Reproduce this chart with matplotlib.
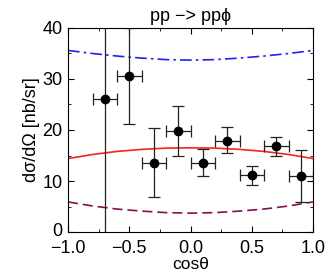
import matplotlib
matplotlib.use("Agg")
import matplotlib.pyplot as plt
import matplotlib.transforms as mtransforms
from matplotlib.ticker import MultipleLocator

plt.rcParams['font.family'] = ['Liberation Sans', 'DejaVu Sans']

# data points
cos_x = [-0.7, -0.5, -0.3, -0.1, 0.1, 0.3, 0.5, 0.7, 0.9]
xerr = [0.1] * 9
dsig = [26.0, 30.5, 13.5, 19.8, 13.5, 17.9, 11.1, 16.8, 11.0]
err_up = [30.0, 9.5, 6.8, 5.0, 2.7, 2.6, 1.9, 1.9, 5.0]
err_lo = [30.0, 9.3, 6.7, 4.9, 2.5, 2.4, 1.8, 1.8, 5.1]

curve_x = [-1.0, -0.8, -0.6, -0.4, -0.2, 0.0, 0.2, 0.4, 0.6, 0.8, 1.0]
blue_y = [35.6, 35.0, 34.5, 34.1, 33.8, 33.7, 33.8, 34.1, 34.5, 35.0, 35.6]
red_y = [14.4, 15.2, 15.8, 16.2, 16.45, 16.5, 16.45, 16.2, 15.8, 15.2, 14.4]
purple_y = [5.9, 5.1, 4.5, 4.1, 3.8, 3.7, 3.8, 4.1, 4.5, 5.1, 5.9]

fig = plt.figure(figsize=(3.27, 2.73), dpi=100)
ax = fig.add_axes([68/327, 1 - 232/273, (313-68)/327, (232-28)/273])

ax.plot(curve_x, blue_y, color='#2020ff', lw=1.2, linestyle=(0, (7, 2.5, 1.5, 2.5)))
ax.plot(curve_x, red_y, color='#ff2020', lw=1.2)
ax.plot(curve_x, purple_y, color='#801050', lw=1.2, linestyle=(0, (6, 3)))

ax.errorbar(cos_x, dsig, xerr=xerr, yerr=[err_lo, err_up], fmt='o', color='black',
            ecolor='#222222', elinewidth=0.9, capsize=4, capthick=0.9, markersize=6)

ax.set_xlim(-1, 1)
ax.set_ylim(0, 40)
ax.xaxis.set_major_locator(MultipleLocator(0.5))
ax.xaxis.set_minor_locator(MultipleLocator(0.25))
ax.yaxis.set_major_locator(MultipleLocator(10))
ax.yaxis.set_minor_locator(MultipleLocator(5))
ax.tick_params(which='both', direction='in', top=True, right=True, labelsize=13)
ax.tick_params(which='major', length=4)
ax.tick_params(which='minor', length=2.5)
ax.tick_params(axis='x', which='major', pad=6)
ax.tick_params(axis='y', which='major', pad=4)
ax.xaxis.set_major_formatter(plt.FuncFormatter(lambda v, p: f"{v:.1f}".replace('-', '\u2212')))

ax.set_xlabel('cos\u03b8', fontsize=12.5, labelpad=0)
ax.set_ylabel('d\u03c3/d\u03a9 [nb/sr]', fontsize=13, labelpad=2)
ax.set_title('pp \u2212> pp\u03d5', fontsize=13, pad=5)

# nudge the "0" y-label up slightly so it does not touch the "-1.0" x-label
yticks = ax.yaxis.get_major_ticks()
for t, loc in zip(yticks, ax.yaxis.get_majorticklocs()):
    if abs(loc) < 1e-9:
        t.label1.set_transform(t.label1.get_transform() +
                               mtransforms.ScaledTranslation(0, 3/100, fig.dpi_scale_trans))

fig.savefig('out.png', dpi=100)
